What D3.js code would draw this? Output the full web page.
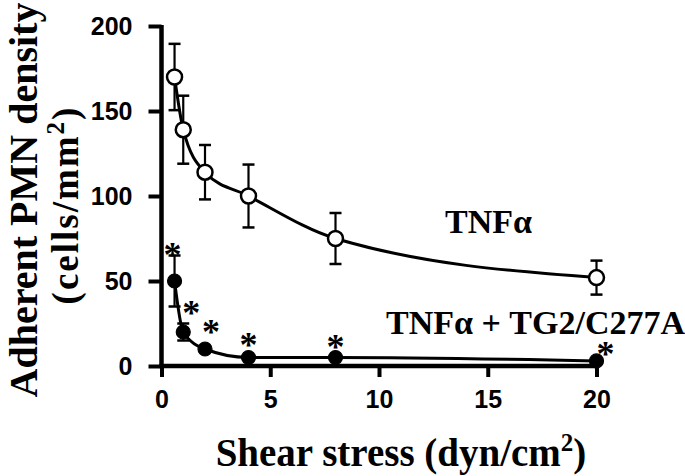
<!DOCTYPE html>
<html>
<head>
<meta charset="utf-8">
<script src="https://cdn.jsdelivr.net/npm/d3@7"></script>
<style>
  html, body { margin: 0; padding: 0; background: #fff; }
  svg { display: block; }
</style>
</head>
<body>
<svg id="chart" width="685" height="476"></svg>
<script>
// ---- data ----
const shear = [0.6, 1, 2, 4, 8, 20];
const tnfMean = [170, 139, 114, 100, 75, 52];
const tnfErr = [19.5, 20, 16, 18.5, 15, 10];
const tg2Mean = [50, 20, 10, 5, 5, 3];
const tg2Err = [15, 5, 0, 0, 0, 0];
const xTicks = [0, 5, 10, 15, 20];
const yTicks = [0, 50, 100, 150, 200];
const seriesNames = ["TNF\u03b1", "TNF\u03b1 + TG2/C277A"];

// ---- layout ----
const svg = d3.select("#chart");
const x = d3.scaleLinear().domain([0, 20]).range([161.5, 596.5]);
const y = d3.scaleLinear().domain([0, 200]).range([366, 26]);
const serif = "'Liberation Serif','Times New Roman',serif";
const sans = "'Liberation Sans',Arial,sans-serif";

// axes
const yAxis = d3.axisLeft(y).tickValues(yTicks).tickSize(13).tickSizeOuter(0).tickPadding(16);
const xAxis = d3.axisBottom(x).tickValues(xTicks).tickSize(11).tickSizeOuter(0).tickPadding(13);

const gy = svg.append("g").attr("transform", `translate(${x(0)},0)`).call(yAxis);
const gx = svg.append("g").attr("transform", `translate(0,${y(0)})`).call(xAxis);
[gx, gy].forEach(g => {
  g.select(".domain").attr("stroke", "#000").attr("stroke-width", 4.5);
  g.selectAll(".tick line").attr("stroke", "#000").attr("stroke-width", 4);
  g.selectAll(".tick text").attr("fill", "#000")
    .style("font-family", sans).style("font-weight", "bold").style("font-size", "25px");
});
gx.select(".domain").attr("d", `M${x(0) - 2},0H${x(20) + 2}`);
gy.select(".domain").attr("d", `M0,${y(200) - 1}V${y(0) + 2}`);

// ---- series ----
const line = d3.line().x((d, i) => x(shear[i])).y(d => y(d)).curve(d3.curveMonotoneX);

function drawSeries(means, errs, filled) {
  const g = svg.append("g");
  g.append("path").datum(means).attr("d", line)
    .attr("fill", "none").attr("stroke", "#000").attr("stroke-width", 3);
  means.forEach((d, i) => {
    if (!(errs[i] > 0)) return;
    const cx = x(shear[i]);
    const top = y(d + errs[i]), bot = y(d - errs[i]);
    g.append("line").attr("x1", cx).attr("x2", cx).attr("y1", top).attr("y2", bot)
      .attr("stroke", "#000").attr("stroke-width", 2.2);
    [top, bot].forEach(v => g.append("line").attr("x1", cx - 6).attr("x2", cx + 6)
      .attr("y1", v).attr("y2", v).attr("stroke", "#000").attr("stroke-width", 2.5));
  });
  g.selectAll("circle").data(means).enter().append("circle")
    .attr("cx", (d, i) => x(shear[i])).attr("cy", d => y(d))
    .attr("r", filled ? 7 : 7.5)
    .attr("fill", filled ? "#000" : "#fff")
    .attr("stroke", "#000").attr("stroke-width", filled ? 1.2 : 2.5);
}
drawSeries(tnfMean, tnfErr, false);
drawSeries(tg2Mean, tg2Err, true);

// significance stars (offsets of star centre from each filled point, px)
const starDx = [-2, 8, 6, 0, 0, 9];
const starDy = [-31, -24, -22, -18, -16, -12];
svg.append("g").selectAll("text").data(tg2Mean).enter().append("text")
  .attr("x", (d, i) => x(shear[i]) + starDx[i])
  .attr("y", (d, i) => y(d) + starDy[i] + 17)
  .attr("text-anchor", "middle")
  .style("font-family", serif).style("font-weight", "bold").style("font-size", "36px")
  .text("*");

// series labels
svg.append("text").attr("x", 445).attr("y", 233)
  .style("font-family", serif).style("font-weight", "bold").style("font-size", "34px")
  .text(seriesNames[0]);
svg.append("text").attr("x", 386).attr("y", 334)
  .style("font-family", serif).style("font-weight", "bold").style("font-size", "34px")
  .text(seriesNames[1]);

// x title
const xt = svg.append("text").attr("x", 401).attr("y", 466).attr("text-anchor", "middle")
  .style("font-family", serif).style("font-weight", "bold").style("font-size", "39px");
xt.append("tspan").text("Shear stress (dyn/cm");
xt.append("tspan").attr("dy", -15).style("font-size", "25px").text("2");
xt.append("tspan").attr("dy", 15).text(")");

// y title
const yt = svg.append("text").attr("transform", "translate(37,200) rotate(-90)")
  .attr("text-anchor", "middle")
  .style("font-family", serif).style("font-weight", "bold").style("font-size", "40px");
yt.append("tspan").text("Adherent PMN density");
const yt2 = svg.append("text").attr("transform", "translate(78,205) rotate(-90)")
  .attr("text-anchor", "middle")
  .style("font-family", serif).style("font-weight", "bold").style("font-size", "37px")
  .style("letter-spacing", "2px");
yt2.append("tspan").text("(cells/mm");
yt2.append("tspan").attr("dy", -14).style("font-size", "25px").text("2");
yt2.append("tspan").attr("dy", 14).text(")");
</script>
</body>
</html>
